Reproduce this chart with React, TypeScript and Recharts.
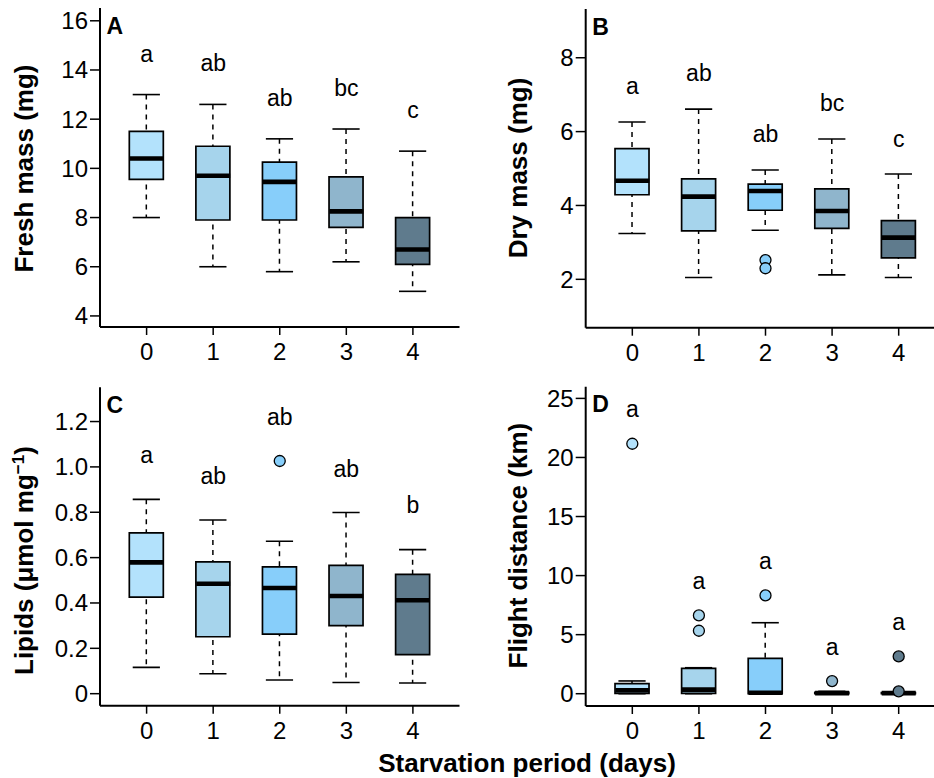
import React from "react";
import { ComposedChart, Bar, Scatter, XAxis, YAxis } from "recharts";

const days = ["0", "1", "2", "3", "4"];
const boxColors = ["#b3e2fc", "#a6d4ec", "#87cefa", "#8fb5cc", "#5f7b8d"];

// A – fresh mass
const freshLow = [8.0, 6.0, 5.8, 6.2, 5.0];
const freshQ1 = [9.55, 7.9, 7.9, 7.6, 6.1];
const freshMed = [10.4, 9.7, 9.45, 8.25, 6.7];
const freshQ3 = [11.5, 10.9, 10.25, 9.65, 8.0];
const freshHigh = [13.0, 12.6, 11.2, 11.6, 10.7];
const freshLetters = ["a", "ab", "ab", "bc", "c"];
const freshLetterY = [14.34, 13.96, 12.53, 12.94, 12.03];
const freshOutliers: { day: string; value: number }[] = [];
const freshTicks = [4, 6, 8, 10, 12, 14, 16];

// B – dry mass
const dryLow = [3.24, 2.05, 3.33, 2.12, 2.05];
const dryQ1 = [4.29, 3.31, 3.87, 3.38, 2.58];
const dryMed = [4.67, 4.24, 4.39, 3.85, 3.13];
const dryQ3 = [5.54, 4.72, 4.58, 4.45, 3.59];
const dryHigh = [6.26, 6.61, 4.96, 5.8, 4.85];
const dryLetters = ["a", "ab", "ab", "bc", "c"];
const dryLetterY = [7.01, 7.37, 5.73, 6.56, 5.59];
const dryOutliers = [
  { day: "2", value: 2.52 },
  { day: "2", value: 2.3 },
];
const dryTicks = [2, 4, 6, 8];

// C – lipids
const lipidLow = [0.116, 0.088, 0.06, 0.049, 0.047];
const lipidQ1 = [0.426, 0.251, 0.263, 0.3, 0.172];
const lipidMed = [0.579, 0.485, 0.466, 0.431, 0.412];
const lipidQ3 = [0.709, 0.581, 0.559, 0.566, 0.526];
const lipidHigh = [0.857, 0.766, 0.672, 0.799, 0.635];
const lipidLetters = ["a", "ab", "ab", "ab", "b"];
const lipidLetterY = [1.016, 0.925, 1.185, 0.957, 0.796];
const lipidOutliers = [{ day: "2", value: 1.026 }];
const lipidTicks = [0, 0.2, 0.4, 0.6, 0.8, 1.0, 1.2];

// D – flight distance
const flightLow = [0, 0, 0, 0, 0];
const flightQ1 = [0.02, 0.03, 0, 0, 0];
const flightMed = [0.28, 0.35, 0.08, 0.05, 0.05];
const flightQ3 = [0.85, 2.15, 3.0, 0.12, 0.1];
const flightHigh = [1.08, 2.2, 6.01, 0.2, 0.15];
const flightLetters = ["a", "a", "a", "a", "a"];
const flightLetterY = [23.45, 8.89, 10.58, 3.27, 5.39];
const flightOutliers = [
  { day: "0", value: 21.16 },
  { day: "1", value: 6.63 },
  { day: "1", value: 5.33 },
  { day: "2", value: 8.32 },
  { day: "3", value: 1.07 },
  { day: "4", value: 3.16 },
  { day: "4", value: 0.2 },
];
const flightTicks = [0, 5, 10, 15, 20, 25];

const FONT = "'Liberation Sans', Arial, Helvetica, sans-serif";
const BOX_W = 34;

function buildRows(lo: number[], q1: number[], med: number[], q3: number[], hi: number[], letters: string[], letterY: number[]) {
  return days.map((day, i) => ({
    day,
    whisker: [lo[i], hi[i]],
    box: [q1[i], q3[i]],
    med: med[i],
    letter: letters[i],
    letterY: letterY[i],
    color: boxColors[i],
  }));
}

function WhiskerShape(props: any) {
  const { x, y, width, height } = props;
  if (x == null || y == null) return null;
  const cx = x + width / 2;
  const top = Math.min(y, y + height);
  const bot = Math.max(y, y + height);
  const half = width * 0.4;
  return (
    <g>
      <line x1={cx} x2={cx} y1={top} y2={bot} stroke="#000" strokeWidth={1.5} strokeDasharray="5 5" />
      <line x1={cx - half} x2={cx + half} y1={top} y2={top} stroke="#000" strokeWidth={1.6} />
      <line x1={cx - half} x2={cx + half} y1={bot} y2={bot} stroke="#000" strokeWidth={1.6} />
    </g>
  );
}

function BoxShape(props: any) {
  const { x, y, width, height, payload } = props;
  if (x == null || y == null) return null;
  const top = Math.min(y, y + height);
  const h = Math.abs(height);
  return (
    <g>
      <rect x={x} y={top} width={width} height={h} fill={payload.color} />
      <path
        d={`M${x},${top}H${x + width}V${top + h}H${x}Z`}
        fill="none"
        stroke="#000"
        strokeWidth={1.7}
        style={{ stroke: "#000", strokeWidth: 1.7 }}
      />
    </g>
  );
}

function MedianShape(props: any) {
  const { cx, cy } = props;
  if (cx == null || cy == null) return null;
  return <line x1={cx - BOX_W / 2} x2={cx + BOX_W / 2} y1={cy} y2={cy} stroke="#000" strokeWidth={4.6} />;
}

function LetterShape(props: any) {
  const { cx, cy, payload } = props;
  if (cx == null || cy == null) return null;
  return (
    <text x={cx} y={cy} textAnchor="middle" fontSize={23} fontFamily={FONT} fill="#000">
      {payload.letter}
    </text>
  );
}

function OutlierShape(props: any) {
  const { cx, cy, payload } = props;
  if (cx == null || cy == null) return null;
  return <circle cx={cx} cy={cy} r={5.5} fill={boxColors[days.indexOf(payload.day)]} stroke="#000" strokeWidth={1.3} />;
}

interface PanelProps {
  rows: any[];
  outliers: { day: string; value: number }[];
  domain: [number, number];
  ticks: number[];
  fmt?: (v: number) => string;
  title: React.ReactNode;
  titleX: number;
  titleY: number;
  titleAnchor: "middle" | "start";
  tag: string;
  left: number;
  top: number;
  width: number;
  margin: { top: number; right: number; bottom: number; left: number };
}

function BoxPanel(p: PanelProps) {
  const height = 380;
  const plotLeft = p.margin.left + 60;
  const plotW = p.width - plotLeft - p.margin.right;
  const pad = (plotW * 0.2) / 5.4;

  const renderTitle = () => (
    <g>
      <text
        x={p.titleX}
        y={p.titleY}
        transform={`rotate(-90 ${p.titleX} ${p.titleY})`}
        textAnchor={p.titleAnchor}
        fontSize={26}
        fontWeight="bold"
        fontFamily={FONT}
        fill="#000"
      >
        {p.title}
      </text>
      <text x={plotLeft + 6.5} y={p.margin.top + 25.5} fontSize={23} fontWeight="bold" fontFamily={FONT} fill="#000">
        {p.tag}
      </text>
    </g>
  );

  return (
    <div style={{ position: "absolute", left: p.left, top: p.top }}>
      <ComposedChart width={p.width} height={height} data={p.rows} margin={p.margin} barGap={-BOX_W}>
        <XAxis
          dataKey="day"
          type="category"
          allowDuplicatedCategory={false}
          padding={{ left: pad, right: pad }}
          height={40}
          tickSize={8}
          tickMargin={8}
          axisLine={{ stroke: "#000", strokeWidth: 2 }}
          tickLine={{ stroke: "#000", strokeWidth: 1.5 }}
          tick={{ fill: "#000", fontSize: 24, fontFamily: FONT }}
        />
        <XAxis
          xAxisId="top"
          orientation="top"
          dataKey="day"
          height={0}
          tick={false}
          tickLine={false}
          axisLine={{ stroke: "#000", strokeWidth: 2 }}
        />
        <YAxis
          type="number"
          domain={p.domain}
          ticks={p.ticks}
          interval={0}
          allowDataOverflow
          width={60}
          tickSize={10}
          tickMargin={2}
          tickFormatter={p.fmt}
          axisLine={{ stroke: "#000", strokeWidth: 2 }}
          tickLine={{ stroke: "#000", strokeWidth: 1.5 }}
          tick={{ fill: "#000", fontSize: 24, fontFamily: FONT }}
          label={renderTitle}
        />
        <YAxis
          yAxisId="right"
          orientation="right"
          width={0}
          tick={false}
          tickLine={false}
          axisLine={{ stroke: "#000", strokeWidth: 2 }}
        />
        <Bar dataKey="whisker" barSize={BOX_W} shape={<WhiskerShape />} isAnimationActive={false} />
        <Bar dataKey="box" barSize={BOX_W} shape={<BoxShape />} isAnimationActive={false} />
        <Scatter dataKey="med" shape={<MedianShape />} isAnimationActive={false} />
        <Scatter data={p.outliers} dataKey="value" shape={<OutlierShape />} isAnimationActive={false} />
        <Scatter dataKey="letterY" shape={<LetterShape />} isAnimationActive={false} />
      </ComposedChart>
    </div>
  );
}

const freshRows = buildRows(freshLow, freshQ1, freshMed, freshQ3, freshHigh, freshLetters, freshLetterY);
const dryRows = buildRows(dryLow, dryQ1, dryMed, dryQ3, dryHigh, dryLetters, dryLetterY);
const lipidRows = buildRows(lipidLow, lipidQ1, lipidMed, lipidQ3, lipidHigh, lipidLetters, lipidLetterY);
const flightRows = buildRows(flightLow, flightQ1, flightMed, flightQ3, flightHigh, flightLetters, flightLetterY);

export default function App() {
  return (
    <div
      style={{
        position: "fixed",
        left: 0,
        top: 0,
        width: 934,
        height: 778,
        overflow: "hidden",
        background: "#fff",
        fontFamily: FONT,
      }}
    >
      <BoxPanel
        rows={freshRows}
        outliers={freshOutliers}
        domain={[3.55, 16.52]}
        ticks={freshTicks}
        title="Fresh mass (mg)"
        titleX={33}
        titleY={168.5}
        titleAnchor="middle"
        tag="A"
        left={0}
        top={0}
        width={470}
        margin={{ top: 8, right: 10.5, bottom: 13, left: 40 }}
      />
      <BoxPanel
        rows={dryRows}
        outliers={dryOutliers}
        domain={[0.69, 9.32]}
        ticks={dryTicks}
        title="Dry mass (mg)"
        titleX={57}
        titleY={168}
        titleAnchor="middle"
        tag="B"
        left={470}
        top={0}
        width={480}
        margin={{ top: 9, right: 4.7, bottom: 12.3, left: 55.7 }}
      />
      <BoxPanel
        rows={lipidRows}
        outliers={lipidOutliers}
        domain={[-0.053, 1.351]}
        ticks={lipidTicks}
        fmt={(v: number) => (v === 0 ? "0" : v.toFixed(1))}
        title={
          <>
            Lipids (μmol mg
            <tspan dy={-9} fontSize={17}>
              −1
            </tspan>
            <tspan dy={9}>)</tspan>
          </>
        }
        titleX={33}
        titleY={295}
        titleAnchor="start"
        tag="C"
        left={0}
        top={380}
        width={470}
        margin={{ top: 7.3, right: 10.5, bottom: 14.3, left: 40 }}
      />
      <BoxPanel
        rows={flightRows}
        outliers={flightOutliers}
        domain={[-1.04, 25.99]}
        ticks={flightTicks}
        title="Flight distance (km)"
        titleX={56.7}
        titleY={165.6}
        titleAnchor="middle"
        tag="D"
        left={470}
        top={380}
        width={480}
        margin={{ top: 6.7, right: 4.7, bottom: 14, left: 55.7 }}
      />
      <div
        style={{
          position: "absolute",
          left: 527,
          top: 750,
          transform: "translateX(-50%)",
          whiteSpace: "nowrap",
          fontSize: 26,
          lineHeight: "26px",
          fontWeight: "bold",
          color: "#000",
        }}
      >
        Starvation period (days)
      </div>
    </div>
  );
}
